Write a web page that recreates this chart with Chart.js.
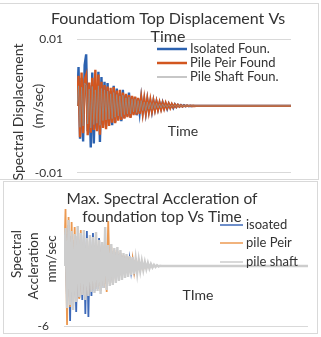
<!DOCTYPE html>
<html>
<head>
<meta charset="utf-8">
<script src="https://cdn.jsdelivr.net/npm/chart.js@4.4.1/dist/chart.umd.min.js"></script>
<style>
  html, body { margin: 0; padding: 0; background: #fff; width: 321px; height: 337px; overflow: hidden; }
  .panel { position: absolute; border: 1px solid #d9d9d9; background: #fff; }
  canvas { position: absolute; left: 0; }
</style>
</head>
<body>
<div class="panel" style="left:-2px; top:3px; width:319px; height:175px;"></div>
<div class="panel" style="left:3px; top:181px; width:313px; height:151px;"></div>
<canvas id="top" width="321" height="180" style="top:0px;width:321px;height:180px;"></canvas>
<canvas id="bot" width="321" height="157" style="top:180px;width:321px;height:157px;"></canvas>
<script>
// ---------- Top chart data (m) ----------
const topTitleLines = ["Foundatiom Top Displacement Vs", "Time"];
const topYTitleLines = ["Spectral Displacement", "(m/sec)"];
const topXTitle = "Time";
const topSeriesNames = ["Isolated Foun.", "Pile Peir Found", "Pile Shaft Foun."];
const topYTicks = [-0.01, 0.01];
const topYTickLabels = ["-0.01", "0.01"];
const topEndTime = 140;
const topIsolated = [0, 0.0058, -0.0049, 0.0042, -0.0053, 0.0061, 0.0077, -0.0038, 0.0031, -0.0062, 0.0050, -0.0056, 0.0029, -0.0034, 0.0051, -0.0054, 0.0043, -0.0028, 0.0036, -0.0031, 0.0034, -0.0026, 0.0022, -0.0029, 0.0030, -0.0024, 0.0026, -0.0020, 0.0019, -0.0023, 0.0024, -0.0018, 0.0016, -0.0015, 0.0020, -0.0017, 0.0014, -0.0012, 0.0013, -0.0014, 0.0011, -0.0010, 0.0012, -0.0009, 0.0008, -0.0010, 0.0009, -0.0007, 0.0006, -0.0008, 0.0007, -0.0005, 0.0006, -0.0005, 0.0004, -0.0004, 0.0005, -0.0003, 0.0003, -0.0004, 0.0003, -0.0002, 0.0002, -0.0003, 0.0002, -0.00015, 0.00015, -0.0001, 0.00012, -0.00008, 0.0001, -0.00005, 0.00005, -0.00003, 0.00002, -0.00002, 0.00001, 0];
const topPilePeir = [0, 0.0045, -0.0047, 0.0050, -0.0041, 0.0039, 0.0046, -0.0044, 0.0035, -0.0040, 0.0042, -0.0036, 0.0054, -0.0038, 0.0047, -0.0043, 0.0036, -0.0033, 0.0031, -0.0035, 0.0029, -0.0030, 0.0027, -0.0025, 0.0028, -0.0026, 0.0023, -0.0022, 0.0024, -0.0021, 0.0020, -0.0019, 0.0018, -0.0017, 0.0016, -0.0018, 0.0015, -0.0014, 0.0014, -0.0013, 0.0012, -0.0012, 0.0011, -0.0010, 0.0010, -0.0009, 0.0009, -0.0008, 0.0008, -0.0007, 0.0007, -0.0006, 0.0006, -0.0005, 0.0005, -0.0005, 0.0004, -0.0004, 0.0004, -0.0003, 0.0003, -0.0003, 0.00025, -0.0002, 0.0002, -0.00015, 0.00015, -0.0001, 0.0001, -0.00008, 0.00006, -0.00005, 0.00004, -0.00003, 0.00003, -0.00002, 0.00002, -0.00001, 0.00001, 0];
const topPileShaft = [0, 0.0030, -0.0032, 0.0028, -0.0030, 0.0034, 0.0031, -0.0027, 0.0025, -0.0033, 0.0029, -0.0028, 0.0024, -0.0026, 0.0030, -0.0029, 0.0026, -0.0022, 0.0024, -0.0021, 0.0022, -0.0020, 0.0018, -0.0019, 0.0020, -0.0017, 0.0017, -0.0015, 0.0015, -0.0016, 0.0016, -0.0013, 0.0012, -0.0012, 0.0013, -0.0012, 0.0010, -0.0009, 0.0010, -0.0010, 0.0008, -0.0008, 0.0008, -0.0007, 0.0006, -0.0007, 0.0006, -0.0005, 0.0005, -0.0005, 0.0005, -0.0004, 0.0004, -0.0003, 0.0003, -0.0003, 0.0003, -0.0002, 0.0002, -0.0002, 0.0002, -0.00015, 0.00012, -0.0001, 0.0001, -0.00008, 0.00008, -0.00005, 0.00005, -0.00004, 0.00003, -0.00002, 0.00002, -0.00001, 0.00001, 0];

// ---------- Bottom chart data (mm/sec) ----------
const botTitleLines = ["Max. Spectral Accleration of", "foundation top Vs Time"];
const botYTitleLines = ["Spectral", "Accleration", "mm/sec"];
const botXTitle = "TIme";
const botSeriesNames = ["isoated", "pile Peir", "pile shaft"];
const botYTicks = [-6];
const botYTickLabels = ["-6"];
const botEndTime = 160;
const botIsolated = [0, 3.2, -3.6, 4.1, -5.5, 3.0, -4.0, 2.6, -4.6, 3.0, -3.2, 2.7, -3.4, 3.1, -4.8, 3.5, -5.1, 2.8, -3.0, 3.3, -2.5, 2.6, -2.3, 2.8, -2.0, 2.1, -2.2, 2.0, -1.8, 1.9, -1.6, 1.5, -1.7, 1.4, -1.3, 1.2, -1.4, 1.1, -1.0, 1.0, -0.9, 0.8, -0.8, 0.7, -0.6, 0.6, -0.5, 0.5, -0.4, 0.3, -0.3, 0.3, -0.2, 0.2, -0.15, 0.1, -0.1, 0.05, 0];
const botPilePeir = [0, 5.7, -5.9, 4.9, -4.1, 4.4, -3.8, 3.9, -3.5, 3.0, -3.3, 3.6, -2.9, 2.7, -3.1, 2.5, -2.8, 2.9, -2.4, 2.6, -2.3, 3.0, -2.1, 2.6, -2.5, 2.2, -2.0, 2.4, -2.6, 4.5, -1.8, 1.9, -1.7, 1.6, -1.5, 1.5, -1.3, 1.3, -1.2, 1.1, -1.0, 1.0, -0.9, 0.9, -0.8, 0.7, -0.6, 0.6, -0.5, 0.5, -0.4, 0.4, -0.3, 0.3, -0.2, 0.2, -0.15, 0.1, -0.08, 0.05, 0];
const botPileShaft = [0, 3.8, -4.2, 4.6, -3.9, 3.5, -4.4, 3.2, -3.6, 4.0, -3.1, 3.3, -2.9, 3.6, -3.4, 2.8, -3.0, 3.1, -2.6, 2.9, -2.7, 3.4, -2.5, 2.6, -2.8, 2.4, -2.2, 3.9, -2.4, 2.1, -2.0, 2.2, -1.9, 1.8, -1.7, 1.9, -1.5, 1.6, -1.4, 1.3, -1.2, 1.2, -1.1, 1.0, -0.9, 0.9, -0.8, 0.7, -0.7, 0.6, -0.5, 0.5, -0.4, 0.4, -0.3, 0.3, -0.25, 0.2, -0.15, 0.12, -0.1, 0.08, -0.05, 0.03, 0];

const FONT = "Lato, 'Open Sans', sans-serif";
const TEXT = "#333333";

function toPoints(values, endTime) {
  return values.map((v, i) => ({ x: i, y: v })).concat([{ x: endTime, y: 0 }]);
}

function decorPlugin(cfg) {
  return {
    id: 'decor',
    afterDraw(chart) {
      const ctx = chart.ctx;
      ctx.save();
      ctx.fillStyle = TEXT;
      ctx.textBaseline = 'middle';
      ctx.font = cfg.titleFont;
      ctx.textAlign = 'center';
      cfg.title.forEach((t, i) => ctx.fillText(t, cfg.titleX, cfg.titleY[i]));
      ctx.font = cfg.yTitleFont;
      cfg.yTitle.forEach((t, i) => {
        ctx.save();
        ctx.translate(cfg.yTitleX[i], cfg.yTitleY[i]);
        ctx.rotate(-Math.PI / 2);
        ctx.fillText(t, 0, 0);
        ctx.restore();
      });
      ctx.font = cfg.xTitleFont;
      ctx.fillText(cfg.xTitle, cfg.xTitlePos[0], cfg.xTitlePos[1]);
      ctx.font = cfg.legendFont;
      ctx.textAlign = 'left';
      chart.data.datasets.forEach((ds, i) => {
        const y = cfg.legendY[i];
        ctx.strokeStyle = ds.borderColor;
        ctx.lineWidth = cfg.legendLineW[i];
        ctx.beginPath();
        ctx.moveTo(cfg.legendX[0], y);
        ctx.lineTo(cfg.legendX[1], y);
        ctx.stroke();
        ctx.fillStyle = TEXT;
        ctx.fillText(ds.label, cfg.legendX[2], y);
      });
      ctx.restore();
    }
  };
}

function makeChart(id, opts) {
  return new Chart(document.getElementById(id), {
    type: 'line',
    data: {
      datasets: opts.series.map((s, i) => ({
        label: s.name,
        data: toPoints(s.values, opts.endTime),
        borderColor: s.color,
        borderWidth: s.width,
        pointRadius: 0,
        tension: 0,
        fill: false,
        order: opts.series.length - i
      }))
    },
    options: {
      responsive: false,
      maintainAspectRatio: false,
      animation: false,
      events: [],
      layout: { padding: opts.padding },
      plugins: { legend: { display: false }, title: { display: false }, tooltip: { enabled: false } },
      scales: {
        x: { type: 'linear', min: 0, max: opts.endTime, display: false },
        y: {
          type: 'linear', min: opts.yMin, max: opts.yMax,
          afterFit(scale) { scale.width = opts.yWidth; },
          afterBuildTicks(scale) { scale.ticks = opts.yTicks.map(v => ({ value: v })); },
          border: { display: false },
          grid: { color: '#d9d9d9', lineWidth: 1, drawTicks: true, tickLength: opts.tickGap, tickColor: 'rgba(0,0,0,0)' },
          ticks: {
            padding: 0,
            color: TEXT,
            font: { family: FONT, size: 12 },
            callback(v) { const k = opts.yTicks.indexOf(v); return k >= 0 ? opts.yTickLabels[k] : ''; }
          }
        }
      }
    },
    plugins: [decorPlugin(opts.decor)]
  });
}

makeChart('top', {
  series: [
    { name: topSeriesNames[0], values: topIsolated, color: '#2c62b0', width: 2.4 },
    { name: topSeriesNames[1], values: topPilePeir, color: '#d2561f', width: 2.4 },
    { name: topSeriesNames[2], values: topPileShaft, color: '#8f8f8f', width: 0.8 }
  ],
  endTime: topEndTime,
  yMin: -0.01, yMax: 0.01,
  yTicks: topYTicks, yTickLabels: topYTickLabels,
  yWidth: 77, tickGap: 14,
  padding: { top: 39, bottom: 7, left: 0, right: 30 },
  decor: {
    title: topTitleLines, titleFont: `16px ${FONT}`, titleX: 168, titleY: [19, 37],
    yTitle: topYTitleLines, yTitleFont: `14px ${FONT}`, yTitleX: [18, 38], yTitleY: [112, 106],
    xTitle: topXTitle, xTitleFont: `14px ${FONT}`, xTitlePos: [183, 131],
    legendFont: `13px ${FONT}`, legendX: [157, 187, 190], legendY: [49, 63, 77], legendLineW: [2.5, 2.5, 1]
  }
});

makeChart('bot', {
  series: [
    { name: botSeriesNames[0], values: botIsolated, color: '#3d69b8', width: 1.8 },
    { name: botSeriesNames[1], values: botPilePeir, color: '#ec9a52', width: 1.8 },
    { name: botSeriesNames[2], values: botPileShaft, color: '#cdcdcd', width: 2.4 }
  ],
  endTime: botEndTime,
  yMin: -6, yMax: 6,
  yTicks: botYTicks, yTickLabels: botYTickLabels,
  yWidth: 64, tickGap: 15,
  padding: { top: 26, bottom: 11, left: 0, right: 13 },
  decor: {
    title: botTitleLines, titleFont: `15.5px ${FONT}`, titleX: 162, titleY: [19, 37],
    yTitle: botYTitleLines, yTitleFont: `13.5px ${FONT}`, yTitleX: [17, 34, 52], yTitleY: [74, 86, 79],
    xTitle: botXTitle, xTitleFont: `14px ${FONT}`, xTitlePos: [198, 115],
    legendFont: `13px ${FONT}`, legendX: [220, 243, 246], legendY: [45, 63, 82], legendLineW: [1.5, 1.5, 1.5]
  }
});
</script>
</body>
</html>
